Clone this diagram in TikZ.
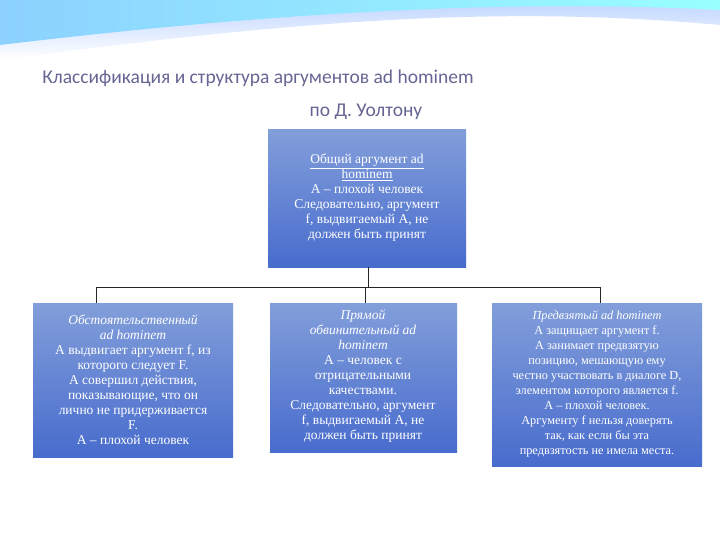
\documentclass[tikz,border=0pt]{standalone}
\usepackage{fontspec}
\setmainfont{Liberation Serif}
\newfontfamily\titlefont{Carlito}
\begin{document}
\begin{tikzpicture}[x=1pt,y=-1pt,
  boxfill/.style={top color={rgb,255:red,130;green,158;blue,218},bottom color={rgb,255:red,72;green,108;blue,205}},
  boxtext/.style={text=white,align=center,font=\fontsize{13.5}{15}\selectfont},
  titlest/.style={font=\titlefont\fontsize{19.5}{34}\selectfont,text=black!70!blue!60},
  link/.style={draw=black!85,line width=0.9pt}]
\useasboundingbox (0,0) rectangle (720,540);
\fill[white] (0,0) rectangle (720,540);
% top wave band
\shade[top color=cyan!35!blue!25,bottom color=white] (0,0) -- (720,0) -- (720,25) .. controls (500,5) and (300,20) .. (0,60) -- cycle;
\shade[left color=cyan!60!blue!45,right color=cyan!40!white] (0,0) -- (720,0) -- (720,10) .. controls (500,-2) and (250,15) .. (0,45) -- cycle;
\node[titlest] (title1) at (258,78) {Классификация и структура аргументов ad hominem};
\node[titlest] (title2) at (366,112) {по Д. Уолтону};
\fill[boxfill] (268,130) rectangle (466,267);
\node[boxtext] (top) at (367,198) {\underline{Общий аргумент ad}\\\underline{hominem}\\А – плохой человек\\Следовательно, аргумент\\f, выдвигаемый А, не\\должен быть принят};
\coordinate (topb) at (368,267);
\coordinate (j) at (368,287);
\foreach \n/\xa/\xb/\yb in {L/33/233/457, M/270/457/452, R/492/702/466}{
  \fill[boxfill] (\xa,303) rectangle (\xb,\yb);
}
\node[boxtext] (L) at (133,380) {\textit{Обстоятельственный}\\\textit{ad hominem}\\А выдвигает аргумент f, из\\которого следует F.\\А совершил действия,\\показывающие, что он\\лично не придерживается\\F.\\А – плохой человек};
\node[boxtext] (M) at (363,376) {\textit{Прямой}\\\textit{обвинительный ad}\\\textit{hominem}\\А – человек с\\отрицательными\\качествами.\\Следовательно, аргумент\\f, выдвигаемый А, не\\должен быть принят};
\node[boxtext,font=\fontsize{12.3}{15}\selectfont] (R) at (597,384) {\textit{Предвзятый ad hominem}\\А защищает аргумент f.\\А занимает предвзятую\\позицию, мешающую ему\\честно участвовать в диалоге D,\\элементом которого является f.\\А – плохой человек.\\Аргументу f нельзя доверять\\так, как если бы эта\\предвзятость не имела места.};
\coordinate (Lt) at (96,303);
\coordinate (Mt) at (365,303);
\coordinate (Rt) at (600,303);
\draw[link] (topb) -- (j);
\draw[link] (Lt) -- (96,287) -- (600,287) -- (Rt);
\draw[link] (j) -- (365,287) -- (Mt);
\end{tikzpicture}
\end{document}
